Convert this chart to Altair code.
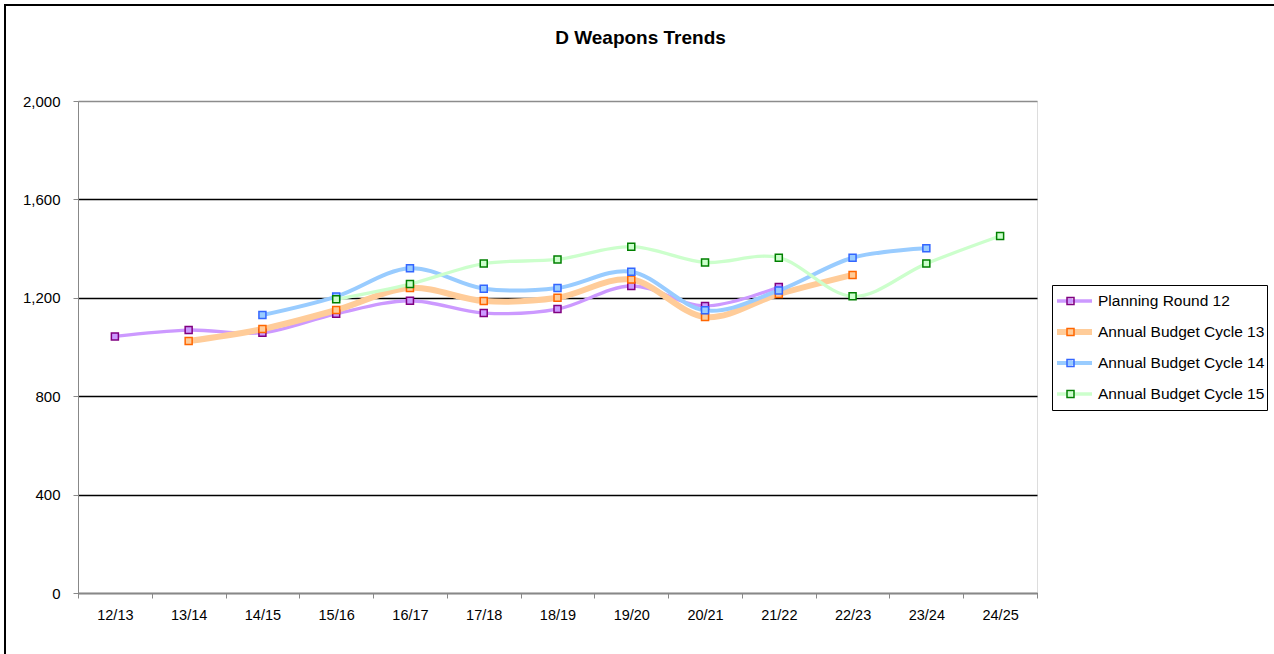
import altair as alt
import pandas as pd

# Financial years on the category axis
years = ["12/13", "13/14", "14/15", "15/16", "16/17", "17/18", "18/19",
         "19/20", "20/21", "21/22", "22/23", "23/24", "24/25"]

series_names = ["Planning Round 12", "Annual Budget Cycle 13",
                "Annual Budget Cycle 14", "Annual Budget Cycle 15"]

# Values per series (None = year not covered by that round)
pr12 = [1043, 1069, 1058, 1135, 1188, 1138, 1154, 1248, 1167, 1244, None, None, None]
abc13 = [None, 1024, 1073, 1150, 1240, 1187, 1200, 1274, 1122, 1215, 1293, None, None]
abc14 = [None, None, 1130, 1205, 1320, 1237, 1240, 1306, 1149, 1230, 1363, 1401, None]
abc15 = [None, None, None, 1194, 1256, 1339, 1356, 1408, 1344, 1363, 1206, 1339, 1451]

line_colors = ["#CC99FF", "#FFCC99", "#99CCFF", "#CCFFCC"]
marker_fills = ["#CC99FF", "#FFCC99", "#99CCFF", "#CCFFCC"]
marker_strokes = ["#800080", "#FF6600", "#3366FF", "#008000"]
line_widths = [3.3, 6, 4, 3.3]

rows = []
for name, vals in zip(series_names, [pr12, abc13, abc14, abc15]):
    for yr, v in zip(years, vals):
        if v is not None:
            rows.append({"year": yr, "value": v, "series": name,
                         "marker": name, "edge": name})
df = pd.DataFrame(rows)

FONT = "Liberation Sans"

x_enc = alt.X(
    "year:N",
    sort=years,
    bandPosition=0.5,
    scale=alt.Scale(type="band", domain=years, paddingInner=0, paddingOuter=0),
    axis=alt.Axis(title=None, labelAngle=0, tickBand="extent", labelFontSize=14.5,
                  labelPadding=10, grid=False),
)
y_enc = alt.Y(
    "value:Q",
    scale=alt.Scale(domain=[0, 2000], nice=False),
    axis=alt.Axis(
        title=None, values=[0, 400, 800, 1200, 1600, 2000], format=",.0f",
        labelFontSize=15, labelPadding=13, grid=True,
        gridColor={"condition": {"test": "datum.value === 2000", "value": "#8c8c8c"},
                   "value": "black"},
        gridWidth=1.3,
    ),
)

legend_common = dict(orient="none", legendX=974, legendY=184, title=None,
                     padding=2, clipHeight=28, rowPadding=3,
                     labelFont=FONT, labelLimit=400, labelOffset=3)

# Line swatches (colour and width come from the line scales)
line_legend = alt.Legend(**legend_common, strokeColor="black", fillColor="white",
                         symbolType="M-1,0H1", symbolSize=1225, symbolOffset=0,
                         labelFontSize=15.5, labelColor="black")
# Marker swatches drawn over the line swatches, without labels of their own
fill_legend = alt.Legend(**legend_common, symbolType="square", symbolSize=25,
                         symbolOffset=13, symbolStrokeColor="transparent",
                         symbolStrokeWidth=0, symbolOpacity=1,
                         labelFontSize=1, labelOpacity=0)
edge_legend = alt.Legend(**legend_common, symbolType="square", symbolSize=49,
                         symbolOffset=12, symbolFillColor="transparent",
                         symbolStrokeWidth=1.5, symbolOpacity=1,
                         labelFontSize=1, labelOpacity=0)

lines = alt.Chart(df).mark_line(interpolate="cardinal", tension=0).encode(
    x=x_enc,
    y=y_enc,
    color=alt.Color("series:N", scale=alt.Scale(domain=series_names, range=line_colors),
                    legend=line_legend),
    strokeWidth=alt.StrokeWidth("series:N",
                                scale=alt.Scale(type="ordinal", domain=series_names,
                                                range=line_widths),
                                legend=line_legend),
)

points = alt.Chart(df).mark_point(shape="square", filled=True, size=49,
                                  strokeWidth=1.5, opacity=1).encode(
    x=x_enc,
    y=y_enc,
    fill=alt.Fill("marker:N", sort=series_names, scale=alt.Scale(range=marker_fills),
                  legend=fill_legend),
    stroke=alt.Stroke("edge:N", sort=series_names, scale=alt.Scale(range=marker_strokes),
                      legend=edge_legend),
)

# Outer frame around the whole chart
frame = alt.Chart(alt.Data(values=[{}])).mark_rect(
    fill="transparent", stroke="black", strokeWidth=2
).encode(x=alt.value(-73), x2=alt.value(1300), y=alt.value(-96), y2=alt.value(700))

chart = alt.layer(frame, lines, points).properties(
    width=959,
    height=492,
    autosize=alt.AutoSizeParams(type="none"),
    padding={"left": 78, "top": 101, "right": 237, "bottom": 61},
    title=alt.TitleParams("D Weapons Trends", anchor="middle", frame="group", dx=83,
                          offset=-59, baseline="alphabetic", fontSize=19, font=FONT,
                          fontWeight="bold", color="black"),
).configure_view(
    stroke="#8c8c8c", strokeWidth=2
).configure_axis(
    labelFont=FONT, labelColor="black", domainColor="black", domainWidth=2,
    tickColor="black", tickWidth=1.5, tickSize=6,
).configure(background="white")

chart.save("out.html", embed_options={"renderer": "svg", "actions": False})
